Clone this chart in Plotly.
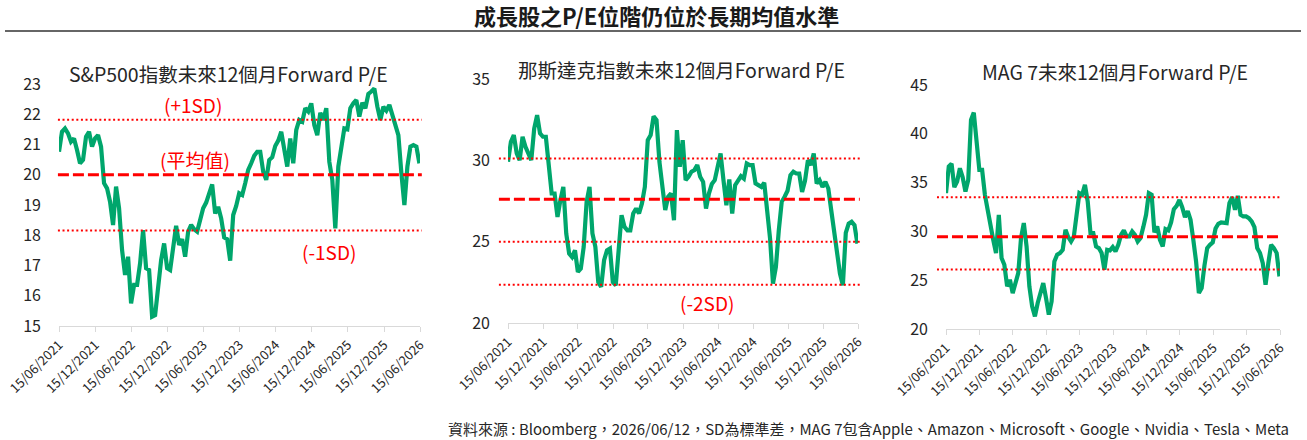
import pandas as pd
import plotly.graph_objects as go

# ---------------- data ----------------
dates = pd.date_range("2021-06-15", "2026-06-12", periods=121)

spx_pe = [20.76, 21.42, 21.53, 21.37, 21.09, 21.20, 20.82, 20.38, 20.49, 21.26,
          21.42, 20.93, 21.20, 21.31, 20.93, 19.72, 19.55, 19.11, 18.34, 19.61,
          18.89, 17.51, 16.69, 17.29, 15.75, 16.36, 16.36, 17.07, 18.17, 16.91,
          16.85, 15.31, 15.36, 16.36, 17.18, 17.73, 16.91, 16.85, 17.57, 18.31,
          17.68, 17.87, 17.29, 18.12, 18.34, 18.20, 18.12, 18.56, 18.89, 19.08,
          19.44, 19.68, 18.72, 18.94, 18.56, 17.93, 17.87, 17.16, 18.67, 18.97,
          19.39, 19.33, 19.72, 20.16, 20.38, 20.63, 20.76, 20.76, 20.10, 19.83,
          20.49, 20.58, 20.95, 21.13, 21.42, 20.93, 20.27, 21.20, 20.38, 21.48,
          21.81, 21.75, 22.20, 22.09, 22.36, 21.64, 21.31, 22.05, 21.81, 22.20,
          20.43, 19.83, 18.23, 20.27, 20.93, 21.53, 21.50, 22.20, 22.36, 22.47,
          21.92, 22.38, 22.20, 22.67, 22.75, 22.85, 22.25, 21.81, 22.25, 22.12,
          22.31, 21.94, 21.59, 21.31, 20.05, 19.00, 20.27, 20.93, 20.98, 20.93,
          20.38]

ndx_pe = [29.91, 31.14, 31.55, 30.42, 30.01, 31.45, 30.83, 30.42, 30.01, 31.96,
          32.78, 31.66, 31.45, 31.45, 29.91, 27.96, 27.96, 26.52, 27.55, 28.37,
          25.50, 24.27, 24.06, 24.47, 23.14, 23.34, 24.68, 27.45, 28.37, 25.50,
          24.68, 22.52, 22.22, 23.86, 24.47, 24.58, 22.52, 22.32, 24.47, 26.63,
          25.91, 25.70, 25.70, 26.73, 27.04, 26.73, 27.35, 28.37, 31.24, 31.55,
          32.70, 32.48, 29.91, 28.37, 26.94, 27.76, 27.96, 26.32, 31.86, 29.60,
          31.24, 28.78, 28.99, 29.30, 29.40, 29.71, 28.99, 28.68, 27.04, 27.96,
          28.54, 28.78, 29.60, 30.42, 28.78, 27.24, 28.82, 26.73, 28.47, 28.78,
          29.03, 28.88, 29.81, 29.71, 29.71, 28.58, 28.47, 28.37, 28.62, 27.14,
          25.19, 22.42, 23.45, 25.70, 27.45, 27.76, 28.13, 29.09, 29.30, 29.19,
          29.19, 28.06, 28.74, 30.01, 29.71, 30.42, 28.58, 28.78, 28.37, 28.68,
          28.27, 26.94, 25.60, 24.47, 23.04, 22.32, 25.54, 26.11, 26.22, 26.01,
          24.88]

mag7_pe = [33.92, 36.64, 36.92, 34.53, 35.11, 36.47, 35.55, 34.09, 35.28, 41.42,
           42.17, 39.54, 36.30, 36.30, 33.75, 32.21, 30.33, 29.14, 27.78, 31.70,
           27.26, 26.58, 24.37, 25.05, 23.68, 24.71, 25.73, 29.31, 30.85, 28.46,
           24.37, 22.32, 21.30, 22.66, 23.85, 24.71, 23.17, 21.47, 22.83, 26.92,
           27.61, 27.78, 28.12, 30.16, 29.41, 28.97, 29.48, 31.60, 33.92, 33.75,
           34.77, 33.06, 29.82, 29.82, 28.46, 28.29, 27.78, 26.07, 28.12, 28.05,
           28.39, 27.95, 28.63, 29.65, 30.10, 29.48, 29.48, 29.99, 29.65, 28.97,
           29.31, 30.44, 31.70, 33.92, 33.75, 29.89, 30.51, 29.14, 28.46, 30.23,
           30.10, 30.91, 32.28, 32.62, 33.23, 32.48, 31.46, 32.07, 31.19, 29.14,
           26.92, 23.68, 24.20, 26.48, 28.29, 28.63, 28.87, 30.30, 30.78, 30.91,
           30.85, 30.85, 32.89, 33.51, 32.21, 33.64, 31.70, 31.53, 31.53, 31.36,
           31.02, 30.44, 28.29, 27.78, 26.75, 24.54, 26.75, 28.63, 28.29, 27.78,
           25.39]

# reference levels: mean (dashed) and SD bands (dotted)
spx_mean, spx_bands = 20.0, [21.82, 18.16]
ndx_mean, ndx_bands = 27.6, [30.12, 25.0, 22.35]
mag7_mean, mag7_bands = 29.45, [33.5, 26.1]

tick_dates = ["2021-06-15", "2021-12-15", "2022-06-15", "2022-12-15", "2023-06-15",
              "2023-12-15", "2024-06-15", "2024-12-15", "2025-06-15", "2025-12-15",
              "2026-06-15"]
tick_text = [pd.Timestamp(d).strftime("%d/%m/%Y") for d in tick_dates]

titles = ["S&P500指數未來12個月Forward P/E",
          "那斯達克指數未來12個月Forward P/E",
          "MAG 7未來12個月Forward P/E"]
main_title = "成長股之P/E位階仍位於長期均值水準"
footnote = "資料來源 : Bloomberg，2026/06/12，SD為標準差，MAG 7包含Apple、Amazon、Microsoft、Google、Nvidia、Tesla、Meta"

# ---------------- style ----------------
FONT = "Noto Sans CJK TC"
GREEN = "#00A66C"
RED = "#FF0000"
AXIS_GRAY = "#D9D9D9"
TEXT = "#262626"

W, H = 1307, 440

panels = [
    dict(series=spx_pe, mean=spx_mean, bands=spx_bands, yr=[15, 23], dtick=1,
         xdom=[59 / W, 420 / W], ydom=[1 - 326 / H, 1 - 84 / H], ext=-0.003,
         title_pos=(228 / W, 1 - 73 / H)),
    dict(series=ndx_pe, mean=ndx_mean, bands=ndx_bands, yr=[20, 35], dtick=5,
         xdom=[508 / W, 858 / W], ydom=[1 - 323 / H, 1 - 79 / H], ext=-0.026,
         title_pos=(681 / W, 1 - 69 / H)),
    dict(series=mag7_pe, mean=mag7_mean, bands=mag7_bands, yr=[20, 45], dtick=5,
         xdom=[946 / W, 1280 / W], ydom=[1 - 329 / H, 1 - 85 / H], ext=-0.027,
         title_pos=(1115 / W, 1 - 72 / H)),
]

fig = go.Figure()
shapes = []
annotations = []
layout_axes = {}

for i, p in enumerate(panels, start=1):
    sfx = "" if i == 1 else str(i)
    fig.add_trace(go.Scatter(
        x=dates, y=p["series"], mode="lines",
        line=dict(color=GREEN, width=4.2),
        xaxis="x" + sfx, yaxis="y" + sfx,
        showlegend=False, hoverinfo="skip"))

    layout_axes["xaxis" + sfx] = dict(
        domain=p["xdom"], anchor="y" + sfx, type="date", automargin=False,
        range=[tick_dates[0], tick_dates[-1]],
        tickmode="array", tickvals=tick_dates, ticktext=tick_text,
        tickangle=-45, tickfont=dict(family=FONT, size=13, color=TEXT),
        showline=True, linecolor=AXIS_GRAY, linewidth=1.2,
        ticks="outside", ticklen=5, tickcolor=AXIS_GRAY, tickwidth=1,
        showgrid=False, zeroline=False, fixedrange=True)
    layout_axes["yaxis" + sfx] = dict(
        domain=p["ydom"], anchor="x" + sfx, range=p["yr"], dtick=p["dtick"],
        tick0=p["yr"][0], automargin=False,
        tickfont=dict(family=FONT, size=16, color=TEXT),
        showline=False, showgrid=False, zeroline=False, ticks="",
        ticklabelstandoff=17, fixedrange=True)

    xref = ("x" + sfx) + " domain"
    yref = "y" + sfx
    shapes.append(dict(type="line", xref=xref, yref=yref, x0=p["ext"], x1=1.005,
                       y0=p["mean"], y1=p["mean"],
                       line=dict(color=RED, width=3, dash="11px,4px")))
    for b in p["bands"]:
        shapes.append(dict(type="line", xref=xref, yref=yref, x0=p["ext"], x1=1.005,
                           y0=b, y1=b,
                           line=dict(color=RED, width=2, dash="2px,2.6px")))

    annotations.append(dict(text=titles[i - 1], x=p["title_pos"][0], y=p["title_pos"][1],
                            xref="paper", yref="paper", showarrow=False,
                            xanchor="center", yanchor="middle",
                            font=dict(family=FONT, size=19.5, color=TEXT)))

# SD labels
sd_labels = [
    ("(+1SD)", "x domain", "y", 0.371, 22.31),
    ("(平均值)", "x domain", "y", 0.377, 20.52),
    ("(-1SD)", "x domain", "y", 0.748, 17.45),
    ("(-2SD)", "x2 domain", "y2", 0.569, 21.28),
]
for txt, xr, yr, xv, yv in sd_labels:
    annotations.append(dict(text=txt, x=xv, y=yv, xref=xr, yref=yr, showarrow=False,
                            xanchor="center", yanchor="middle",
                            font=dict(family=FONT, size=19, color=RED)))

annotations.append(dict(text="<b>" + main_title + "</b>", x=656 / W, y=1 - 15 / H,
                        xref="paper", yref="paper", showarrow=False,
                        xanchor="center", yanchor="middle",
                        font=dict(family=FONT, size=22, color="#1A1A1A")))
annotations.append(dict(text=footnote, x=1291 / W, y=1 - 428 / H,
                        xref="paper", yref="paper", showarrow=False,
                        xanchor="right", yanchor="middle",
                        font=dict(family=FONT, size=15, color=TEXT)))

shapes.append(dict(type="line", xref="paper", yref="paper", x0=5 / W, x1=1301 / W,
                   y0=1 - 31 / H, y1=1 - 31 / H, line=dict(color="#333333", width=1.4)))

fig.update_layout(
    width=W, height=H, margin=dict(l=0, r=0, t=0, b=0, autoexpand=False),
    paper_bgcolor="white", plot_bgcolor="white",
    shapes=shapes, annotations=annotations, showlegend=False,
    **layout_axes)

fig.write_html("out.html", config={"displayModeBar": False},
               post_script="document.body.style.margin='0';document.body.style.padding='0';")
